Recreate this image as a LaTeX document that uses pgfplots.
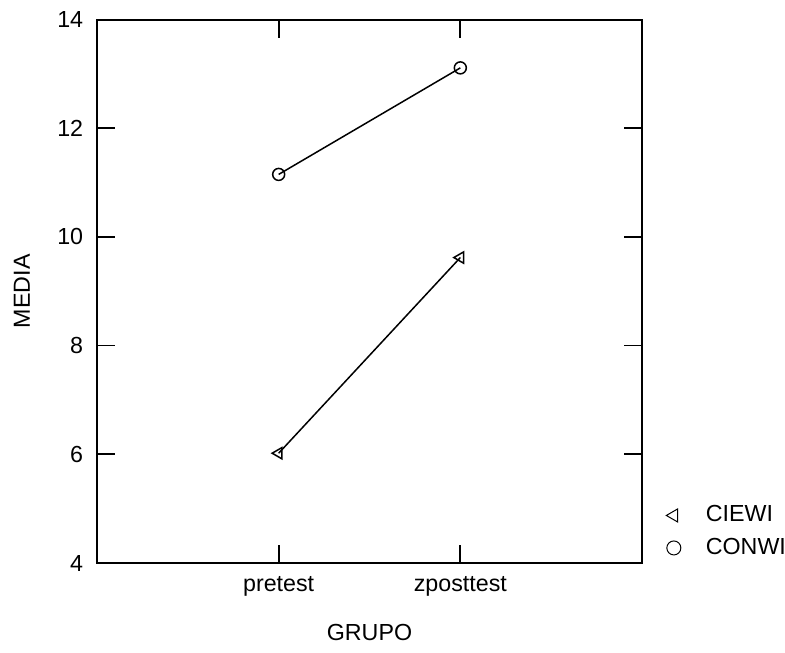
\documentclass[border=0pt]{standalone}
\usepackage{fontspec}
\setmainfont{Liberation Sans}
\usepackage{pgfplots}
\pgfplotsset{compat=1.18}

\begin{document}
\begin{tikzpicture}
\begin{axis}[
  scale only axis,
  width=218pt, height=217.4pt,
  xmin=0, xmax=3, ymin=4, ymax=14,
  xtick={1,2}, xticklabels={pretest,zposttest},
  ytick={4,6,8,10,12,14},
  tick pos=both, tick align=inside,
  major tick length=7.2pt,
  axis line style={line width=0.8pt},
  tick style={line width=0.7pt, black},
  font=\fontsize{9.3}{11}\selectfont,
  /pgf/number format/assume math mode=true,
  yticklabel style={xshift=-2pt},
  xticklabel style={yshift=-2pt},
  xlabel={GRUPO}, ylabel={MEDIA},
  xlabel style={at={(axis description cs:0.5,-0.127)}, anchor=center},
  ylabel style={at={(axis description cs:-0.138,0.5)}, anchor=center},
  clip=false,
  legend style={draw=none, fill=none, at={(rel axis cs:1.03,-0.01)}, anchor=south west,
    row sep=1pt, font=\fontsize{9.3}{11}\selectfont,
    /tikz/every odd column/.append style={column sep=8pt}},
  legend cell align=left,
]
\addplot[black, line width=0.6pt, mark=triangle, mark size=2.6pt, mark options={rotate=90, solid}, forget plot]
  coordinates {(1,6.02) (2,9.62)};
\addplot[black, line width=0.6pt, mark=o, mark size=2.4pt, forget plot]
  coordinates {(1,11.15) (2,13.11)};
\addlegendimage{only marks, black, mark=triangle, mark size=3pt, mark options={rotate=90}}
\addlegendentry{CIEWI}
\addlegendimage{only marks, black, mark=o, mark size=2.8pt}
\addlegendentry{CONWI}
\coordinate (bl) at (rel axis cs:-0.178,-0.1638);
\coordinate (tr) at (rel axis cs:1.2624,1.0359);
\end{axis}
\pgfresetboundingbox
\path (bl) rectangle (tr);
\end{tikzpicture}
\end{document}
